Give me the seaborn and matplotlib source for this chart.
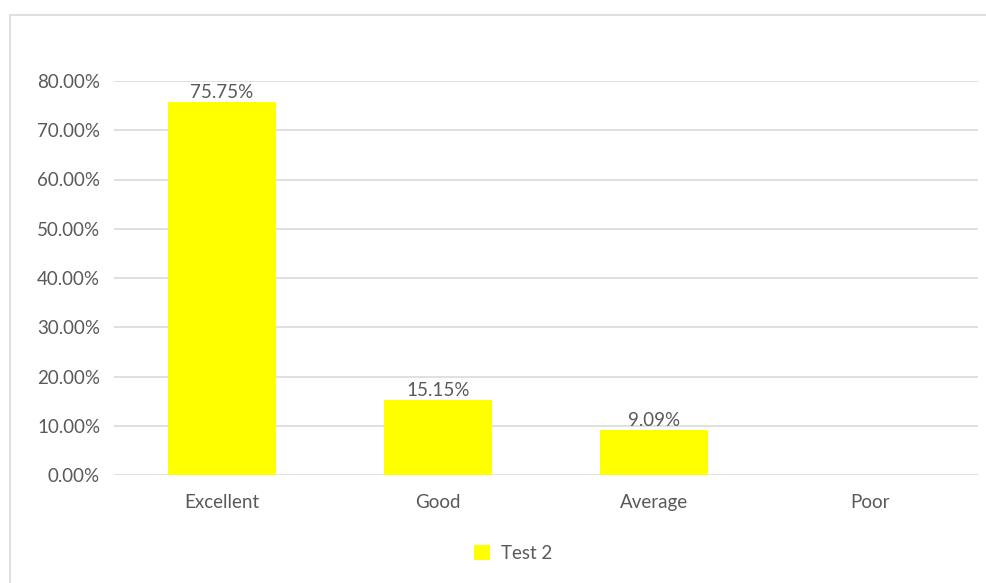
import pandas as pd
import seaborn as sns
import matplotlib.pyplot as plt
from matplotlib.patches import Rectangle
from matplotlib.ticker import FuncFormatter

categories = ["Excellent", "Good", "Average", "Poor"]
values = [0.7575, 0.1515, 0.0909, 0.0]
series_name = "Test 2"

df = pd.DataFrame({"Rating": categories, "Share": values, "Series": series_name})

sns.set_style("white")
plt.rcParams["font.family"] = ["Lato", "DejaVu Sans"]
text_color = "#595959"
fs = 13.5

fig = plt.figure(figsize=(9.87, 5.83), dpi=100)
# outer chart frame (only left and top edges visible in the crop)
fig.patches.append(Rectangle((10 / 987, -0.1), 1.2, 1 - 15 / 583 + 0.1,
                             transform=fig.transFigure, fill=False,
                             edgecolor="#d9d9d9", linewidth=1.2))

ax = fig.add_axes([114 / 987, 1 - 475 / 583, 864 / 987, 394 / 583])
sns.barplot(data=df, x="Rating", y="Share", hue="Series", palette=["#ffff00"],
            saturation=1, width=0.5, linewidth=0, ax=ax, zorder=3)

ax.set_ylim(0, 0.8)
ax.set_yticks([i / 10 for i in range(9)])
ax.yaxis.set_major_formatter(FuncFormatter(lambda v, _: f"{v * 100:.2f}%"))
ax.grid(axis="y", color="#e0e0e0", linewidth=1.4, zorder=0)
ax.set_axisbelow(True)
for s in ax.spines.values():
    s.set_visible(False)
ax.tick_params(axis="both", length=0, labelsize=fs, labelcolor=text_color)
ax.tick_params(axis="y", pad=10)
ax.tick_params(axis="x", pad=14)
ax.set_xlabel("")
ax.set_ylabel("")

labels = [f"{v * 100:.2f}%" if v > 0 else "" for v in values]
ax.bar_label(ax.containers[0], labels=labels, padding=1, fontsize=fs, color=text_color)

ax.legend_.remove()
handles, lbls = ax.get_legend_handles_labels()
fig.legend(handles, lbls, loc="center", bbox_to_anchor=(0.52, 0.051), frameon=False,
           fontsize=fs, labelcolor=text_color, handlelength=0.85, handleheight=0.85,
           handletextpad=0.6)

fig.savefig("out.png", dpi=100)
